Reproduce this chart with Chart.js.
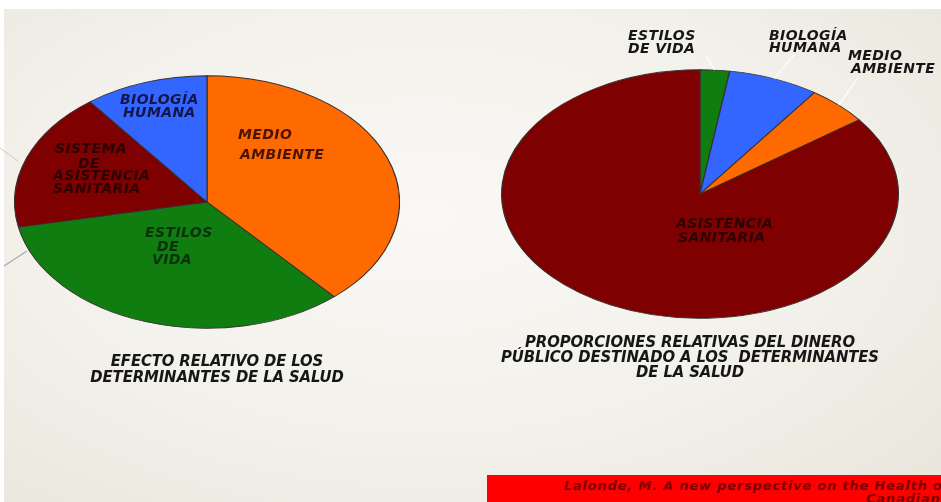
<!DOCTYPE html>
<html lang="es">
<head>
<meta charset="utf-8">
<title>Determinantes de la salud</title>
<script src="https://cdn.jsdelivr.net/npm/chart.js@4/dist/chart.umd.min.js"></script>
<style>
    html, body {
        margin: 0;
        padding: 0;
        width: 941px;
        height: 502px;
        overflow: hidden;
        background: #ffffff;
    }
    .slide {
        position: absolute;
        left: 4px;
        top: 9px;
        right: 0;
        bottom: 0;
        background: radial-gradient(ellipse 75% 80% at 45% 42%, #f9f8f5 0%, #f3f1eb 55%, #e9e6dc 100%);
    }
    canvas {
        position: absolute;
    }
    .title {
        position: absolute;
        font: italic bold 16.5px "DejaVu Sans Condensed", "DejaVu Sans", sans-serif;
        letter-spacing: -0.1px;
        color: #161616;
        text-align: center;
        white-space: nowrap;
    }
    .source {
        position: absolute;
        left: 487px;
        top: 475px;
        width: 470px;
        height: 30px;
        background: #ff0000;
        box-sizing: border-box;
        padding: 4px 8px 0 0;
        font: italic bold 13px "DejaVu Sans", sans-serif;
        letter-spacing: 0.8px;
        line-height: 13px;
        color: #7e0000;
        text-align: right;
        white-space: nowrap;
    }
</style>
</head>
<body>
<div class="slide">
    <svg width="40" height="300" style="position:absolute;left:-4px;top:-9px">
        <line x1="0" y1="148" x2="18" y2="161" stroke="#c9c9c4" stroke-width="1"/>
        <line x1="4" y1="266" x2="27" y2="251" stroke="#a9aaa8" stroke-width="1.2"/>
    </svg>
</div>

<canvas id="efectoChart" width="386" height="386" style="left:14px;top:9px"></canvas>
<canvas id="gastoChart" width="518" height="398" style="left:441px;top:-5px"></canvas>

<div class="title" style="left:217px;top:353px;line-height:16px;transform:translateX(-50%)">
    EFECTO RELATIVO DE LOS<br>DETERMINANTES DE LA SALUD
</div>
<div class="title" style="left:690px;top:334px;line-height:15px;transform:translateX(-50%)">
    PROPORCIONES RELATIVAS DEL DINERO<br>PÚBLICO DESTINADO A LOS&nbsp; DETERMINANTES<br>DE LA SALUD
</div>

<div class="source">Lalonde, M. A new perspective on the Health of<br>Canadians</div>

<script>
// ============================================================================
// Data
// ============================================================================

// Effect of each determinant on health (% of pie)
const efectoLabels = ['MEDIO AMBIENTE', 'ESTILOS DE VIDA', 'SISTEMA DE ASISTENCIA SANITARIA', 'BIOLOGÍA HUMANA'];
const efectoValues = [38.5, 33.3, 17.8, 10.4];
const efectoColors = ['#ff6a00', '#0f7d0f', '#7f0000', '#3366ff'];

// Share of public money spent on each determinant (%)
const gastoLabels = ['ESTILOS DE VIDA', 'BIOLOGÍA HUMANA', 'MEDIO AMBIENTE', 'ASISTENCIA SANITARIA'];
const gastoValues = [2.4, 7.4, 5.0, 85.2];
const gastoColors = ['#0f7d0f', '#3366ff', '#ff6a00', '#7f0000'];

// ============================================================================
// Plugins
// ============================================================================

/**
 * Flatten the pie into an ellipse (vertical ratio)
 */
const squashPlugin = {
    id: 'squash',
    beforeDatasetsDraw(chart, args, opts) {
        const arc = chart.getDatasetMeta(0).data[0];
        const ctx = chart.ctx;
        ctx.save();
        ctx.translate(arc.x, arc.y);
        ctx.scale(1, opts.ratio);
        ctx.translate(-arc.x, -arc.y);
    },
    afterDatasetsDraw(chart) {
        chart.ctx.restore();
    }
};

/**
 * Slice captions; optional leader line from the slice edge
 */
const captionPlugin = {
    id: 'captions',
    afterDraw(chart, args, opts) {
        const ctx = chart.ctx;
        const meta = chart.getDatasetMeta(0);
        const cx = meta.data[0].x;
        const cy = meta.data[0].y;
        const ratio = chart.options.plugins.squash.ratio;

        ctx.save();
        opts.items.forEach(function(item) {
            if (item.leader) {
                const arc = meta.data[item.index];
                const mid = (arc.startAngle + arc.endAngle) / 2;
                const r = arc.outerRadius;
                ctx.beginPath();
                ctx.moveTo(cx + Math.cos(mid) * r, cy + Math.sin(mid) * r * ratio);
                ctx.lineTo(cx + item.leader[0], cy + item.leader[1]);
                ctx.strokeStyle = 'rgba(255,255,255,0.75)';
                ctx.lineWidth = 1.5;
                ctx.stroke();
            }
            ctx.font = 'italic bold 14px "DejaVu Sans", sans-serif';
            ctx.letterSpacing = '0.4px';
            ctx.fillStyle = item.color;
            ctx.textAlign = 'left';
            ctx.textBaseline = 'middle';
            item.lines.forEach(function(line) {
                ctx.fillText(line[0], cx + line[1], cy + line[2]);
            });
        });
        ctx.restore();
    }
};

// ============================================================================
// Chart Helpers
// ============================================================================

function createEllipsePie(canvasId, labels, values, colors, ratio, captions) {
    const ctx = document.getElementById(canvasId).getContext('2d');
    return new Chart(ctx, {
        type: 'pie',
        data: {
            labels: labels,
            datasets: [{
                data: values,
                backgroundColor: colors,
                borderColor: '#3a3030',
                borderWidth: 1.2
            }]
        },
        options: {
            responsive: false,
            animation: false,
            layout: { padding: 0 },
            plugins: {
                legend: { display: false },
                tooltip: { enabled: false },
                squash: { ratio: ratio },
                captions: { items: captions }
            }
        },
        plugins: [squashPlugin, captionPlugin]
    });
}

// ============================================================================
// Charts
// ============================================================================

createEllipsePie('efectoChart', efectoLabels, efectoValues, efectoColors, 126 / 192, [
    { index: 0, color: '#4a1400', lines: [['MEDIO', 31, -67], ['AMBIENTE', 33, -47]] },
    { index: 1, color: '#0a320a', lines: [['ESTILOS', -62, 31], ['DE', -50, 45], ['VIDA', -55, 58]] },
    { index: 2, color: '#2c0202', lines: [['SISTEMA', -152, -53], ['DE', -129, -38], ['ASISTENCIA', -154, -26], ['SANITARIA', -154, -13]] },
    { index: 3, color: '#15154a', lines: [['BIOLOGÍA', -87, -102], ['HUMANA', -84, -89]] }
]);

createEllipsePie('gastoChart', gastoLabels, gastoValues, gastoColors, 124 / 198, [
    { index: 0, color: '#161616', leader: [6, -138], lines: [['ESTILOS', -72, -158], ['DE VIDA', -72, -145]] },
    { index: 1, color: '#161616', leader: [94, -139], lines: [['BIOLOGÍA', 69, -158], ['HUMANA', 69, -146]] },
    { index: 2, color: '#161616', leader: [158, -116], lines: [['MEDIO', 148, -138], ['AMBIENTE', 151, -125]] },
    { index: 3, color: '#2c0202', lines: [['ASISTENCIA', -24, 30], ['SANITARIA', -22, 44]] }
]);
</script>
</body>
</html>
